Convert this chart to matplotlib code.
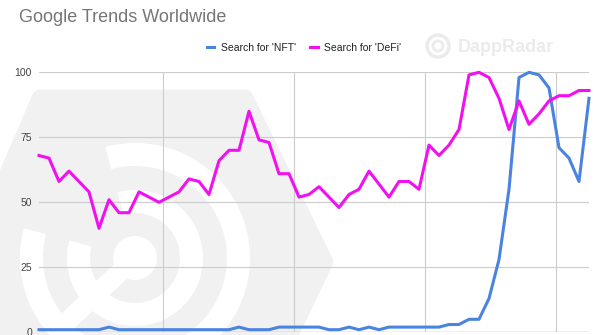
import numpy as np
import matplotlib
matplotlib.use("Agg")
import matplotlib.pyplot as plt
from matplotlib.patches import Polygon, Wedge, Circle

plt.rcParams['font.family'] = ['Liberation Sans', 'DejaVu Sans']

# weekly Google Trends interest (0-100)
defi = [68, 67, 58, 62, 58, 54, 40, 51, 46, 46, 54, 52, 50, 52, 54, 59, 58, 53,
        66, 70, 70, 85, 74, 73, 61, 61, 52, 53, 56, 52, 48, 53, 55, 62, 57, 52,
        58, 58, 55, 72, 68, 72, 78, 99, 100, 98, 90, 78, 89, 80, 84, 89, 91, 91,
        93, 93]
nft = [1, 1, 1, 1, 1, 1, 1, 2, 1, 1, 1, 1, 1, 1, 1, 1, 1, 1, 1, 1, 2, 1, 1, 1,
       2, 2, 2, 2, 2, 1, 1, 2, 1, 2, 1, 2, 2, 2, 2, 2, 2, 3, 3, 5, 5, 13, 28, 55,
       98, 100, 99, 94, 71, 67, 58, 90]
weeks = np.arange(len(defi))
quarter_marks = [12.4, 25.5, 38.6, 51.7]   # unlabeled vertical grid lines
y_ticks = [0, 25, 50, 75, 100]

fig = plt.figure(figsize=(6, 3.35), dpi=100)

# --- background watermark (drawn in pixel coords) ---
bg = fig.add_axes([0, 0, 1, 1], zorder=0)
bg.set_xlim(0, 600)
bg.set_ylim(335, 0)
bg.axis('off')
gray = '#f1f1f1'
hexagon = Polygon([(40, 98), (245, 98), (325, 262), (285, 345), (-40, 345), (-25, 250)],
                  closed=True, facecolor=gray, edgecolor=gray, lw=12, joinstyle='round')
bg.add_patch(hexagon)
cx, cy = 135, 258
for r_out, w in [(115, 23), (68, 23)]:
    bg.add_patch(Wedge((cx, cy), r_out, 255, 195, width=w, facecolor='white', edgecolor='none'))
bg.add_patch(Circle((cx, cy), 22, facecolor='white', edgecolor='none'))
bg.plot([cx, cx - 80], [cy, cy + 75], color='white', lw=14, solid_capstyle='butt')

# small DappRadar mark top right
bg.add_patch(Circle((438, 46), 11, facecolor='none', edgecolor='#ebebeb', lw=2.5))
bg.add_patch(Circle((438, 46), 5, facecolor='none', edgecolor='#ebebeb', lw=2))
fig.text(458 / 600, 1 - 47 / 335, 'DappRadar', fontsize=13, fontweight='bold',
         color='#ebebeb', va='center', ha='left')

# --- main chart ---
ax = fig.add_axes([39 / 600, 1 - 332.3 / 335, 550 / 600, 260 / 335], zorder=1)
ax.patch.set_alpha(0)

ax.plot(weeks, nft, color='#4a84e0', lw=2.2, label="Search for 'NFT'", clip_on=False, zorder=3)
ax.plot(weeks, defi, color='#f010f0', lw=2.2, label="Search for 'DeFi'", clip_on=False, zorder=4)

ax.set_xlim(0, len(defi) - 1)
ax.set_ylim(0, 100)
ax.set_yticks(y_ticks)
ax.set_xticks(quarter_marks)
ax.set_xticklabels([])
ax.tick_params(axis='both', length=0, labelsize=7.5, labelcolor='#444444', pad=5)
ax.grid(True, color='#cccccc', lw=0.8)
for s in ax.spines.values():
    s.set_visible(False)
ax.axhline(0, color='#333333', lw=0.8, zorder=2)

fig.text(19 / 600, 1 - 18 / 335, 'Google Trends Worldwide', fontsize=13,
         color='#757575', va='center', ha='left')

fig.legend(loc='center', bbox_to_anchor=(304 / 600, 1 - 48 / 335), ncol=2,
           frameon=False, fontsize=7.5, handlelength=0.7, handletextpad=0.6,
           columnspacing=1.4, labelcolor='#222222')

fig.savefig('out.png', dpi=100)
